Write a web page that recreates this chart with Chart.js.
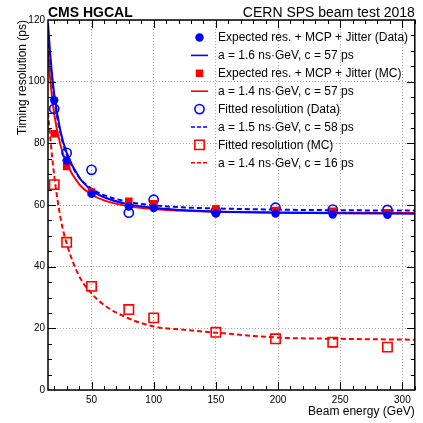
<!DOCTYPE html>
<html>
<head>
<meta charset="utf-8">
<script src="https://cdn.jsdelivr.net/npm/chart.js@4/dist/chart.umd.min.js"></script>
<style>
  html, body { margin: 0; padding: 0; background: #fff; }
  #wrap { position: relative; width: 423px; height: 423px; }
</style>
</head>
<body>
<div id="wrap"><canvas id="chart" width="423" height="423"></canvas></div>
<script>
const fontFamily = "'Liberation Sans', Arial, sans-serif"

// measured points
const energies = [20, 30, 50, 80, 100, 150, 198, 244, 288]
const expectedData = [94.0, 74.4, 63.6, 59.5, 59.0, 57.2, 57.2, 56.9, 56.8]
const expectedMC = [83.1, 72.5, 64.2, 61.2, 60.4, 58.8, 58.2, 58.0, 57.5]
const fittedData = [91.2, 76.9, 71.4, 57.5, 61.7, 58.0, 59.1, 58.5, 58.4]
const fittedMC = [66.6, 47.9, 33.6, 26.1, 23.4, 18.7, 16.6, 15.5, 13.9]

// fit curves
const curveEnergies = [15, 17, 20, 25, 30, 40, 50, 60, 80, 100, 125, 150, 200, 250, 310]
const curveExpectedData = [119, 108, 96, 84, 77, 69, 64.8, 62.5, 60.2, 59.1, 58.3, 57.9, 57.5, 57.3, 57.2]
const curveExpectedMC = [110, 100, 89.5, 79.5, 73.5, 66.8, 63.4, 61.5, 59.6, 58.7, 58.1, 57.8, 57.6, 57.5, 57.4]
const curveFittedData = [115, 105, 94.5, 83.3, 76.5, 69.0, 65.3, 63.2, 61.0, 59.9, 59.2, 58.9, 58.5, 58.3, 58.2]
const curveFittedMC = [90, 81, 69.5, 56, 47.5, 37, 31.3, 27.6, 23.2, 20.6, 19.5, 18.6, 17.0, 16.6, 16.3]

const legendLabels = [
  'Expected res. + MCP + Jitter (Data)',
  'a = 1.6 ns\u00b7GeV, c = 57 ps',
  'Expected res. + MCP + Jitter (MC)',
  'a = 1.4 ns\u00b7GeV, c = 57 ps',
  'Fitted resolution (Data)',
  'a = 1.5 ns\u00b7GeV, c = 58 ps',
  'Fitted resolution (MC)',
  'a = 1.4 ns\u00b7GeV, c = 16 ps'
]

const xTicks = [50, 100, 150, 200, 250, 300]
const yTicks = [0, 20, 40, 60, 80, 100, 120]
const xTitle = 'Beam energy (GeV)'
const yTitle = 'Timing resolution (ps)'
const leftTitle = 'CMS HGCAL'
const rightTitle = 'CERN SPS beam test 2018'

const blue = '#0000ff'
const red = '#ff0000'

const toXY = (xs, ys) => xs.map((x, i) => ({ x, y: ys[i] }))

function points(label, ys, color, style, filled, radius) {
  return {
    label,
    data: toXY(energies, ys),
    showLine: false,
    pointStyle: style,
    pointRadius: radius,
    pointBackgroundColor: filled ? color : 'rgba(0,0,0,0)',
    pointBorderColor: color,
    pointBorderWidth: filled ? 0 : 1.6,
    backgroundColor: filled ? color : 'rgba(0,0,0,0)',
    borderColor: color,
    order: 0
  }
}

function curve(label, ys, color, dashed) {
  return {
    label,
    data: toXY(curveEnergies, ys),
    showLine: true,
    pointRadius: 0,
    borderColor: color,
    borderWidth: 2,
    borderDash: dashed ? [5, 3] : [],
    cubicInterpolationMode: 'monotone',
    fill: false,
    order: 1
  }
}

const datasets = [
  points(legendLabels[0], expectedData, blue, 'circle', true, 4.2),
  curve(legendLabels[1], curveExpectedData, blue, false),
  points(legendLabels[2], expectedMC, red, 'rect', true, 5.3),
  curve(legendLabels[3], curveExpectedMC, red, false),
  points(legendLabels[4], fittedData, blue, 'circle', false, 4.6),
  curve(legendLabels[5], curveFittedData, blue, true),
  points(legendLabels[6], fittedMC, red, 'rect', false, 6.6),
  curve(legendLabels[7], curveFittedMC, red, true)
]

// frame with inward ticks, ROOT style
const framePlugin = {
  id: 'frame',
  afterDraw(chart) {
    const { ctx, chartArea: a, scales: { x, y } } = chart
    ctx.save()
    ctx.strokeStyle = '#000'
    ctx.lineWidth = 1
    ctx.beginPath()
    for (let v = 20; v <= 310; v += 10) {
      const px = Math.round(x.getPixelForValue(v)) + 0.5
      const len = v % 50 === 0 ? 8 : 4
      ctx.moveTo(px, a.bottom); ctx.lineTo(px, a.bottom - len)
      ctx.moveTo(px, a.top); ctx.lineTo(px, a.top + len)
    }
    for (let v = 5; v < 120; v += 5) {
      const py = Math.round(y.getPixelForValue(v)) + 0.5
      const len = v % 20 === 0 ? 8 : 4
      ctx.moveTo(a.left, py); ctx.lineTo(a.left + len, py)
      ctx.moveTo(a.right, py); ctx.lineTo(a.right - len, py)
    }
    ctx.stroke()
    ctx.lineWidth = 1.5
    ctx.strokeRect(a.left, a.top, a.right - a.left, a.bottom - a.top)

    ctx.fillStyle = '#000'
    ctx.textBaseline = 'alphabetic'
    ctx.font = 'bold 14px ' + fontFamily
    ctx.textAlign = 'left'
    ctx.fillText(leftTitle, a.left, 17)
    ctx.font = '14px ' + fontFamily
    ctx.textAlign = 'right'
    ctx.fillText(rightTitle, a.right, 17)
    ctx.restore()
  }
}

// legend inside the frame
const legendPlugin = {
  id: 'innerLegend',
  afterDraw(chart) {
    const { ctx } = chart
    ctx.save()
    ctx.font = '12px ' + fontFamily
    ctx.textBaseline = 'middle'
    ctx.textAlign = 'left'
    chart.data.datasets.forEach((ds, i) => {
      const cy = 37.5 + i * 17.9
      const cx = 199.5
      if (ds.showLine) {
        ctx.strokeStyle = ds.borderColor
        ctx.lineWidth = 1.6
        ctx.setLineDash(ds.borderDash.length ? [4, 2] : [])
        ctx.beginPath()
        ctx.moveTo(191, cy); ctx.lineTo(208, cy)
        ctx.stroke()
        ctx.setLineDash([])
      } else {
        ctx.fillStyle = ds.pointBackgroundColor
        ctx.strokeStyle = ds.pointBorderColor
        ctx.lineWidth = ds.pointBorderWidth
        Chart.helpers.drawPoint(ctx, {
          pointStyle: ds.pointStyle,
          radius: ds.pointRadius,
          borderWidth: ds.pointBorderWidth,
          rotation: 0
        }, cx, cy)
      }
      ctx.fillStyle = '#000'
      ctx.fillText(ds.label, 218, cy + 0.5)
    })
    ctx.restore()
  }
}

Chart.defaults.font.family = fontFamily
Chart.defaults.color = '#000'

new Chart(document.getElementById('chart'), {
  type: 'scatter',
  data: { datasets },
  plugins: [framePlugin, legendPlugin],
  options: {
    responsive: false,
    animation: false,
    layout: { padding: { top: 20, right: 5, left: 0, bottom: 0 } },
    plugins: {
      legend: { display: false },
      tooltip: { enabled: false }
    },
    scales: {
      x: {
        type: 'linear',
        min: 15,
        max: 310,
        afterBuildTicks: s => { s.ticks = xTicks.map(v => ({ value: v })) },
        afterFit: s => { s.height = 33 },
        grid: { color: '#a8a8a8', lineWidth: 1, drawTicks: false },
        border: { display: false, dash: [1, 2] },
        ticks: { padding: 4, maxRotation: 0, font: { size: 10 }, color: '#000' },
        title: {
          display: true, text: xTitle, align: 'end',
          font: { size: 12 }, color: '#000', padding: { top: 0, bottom: 4 }
        }
      },
      y: {
        type: 'linear',
        min: 0,
        max: 120,
        afterBuildTicks: s => { s.ticks = yTicks.map(v => ({ value: v })) },
        afterFit: s => { s.width = 48 },
        grid: { color: '#a8a8a8', lineWidth: 1, drawTicks: false },
        border: { display: false, dash: [1, 2] },
        ticks: { padding: 3, font: { size: 10 }, color: '#000' },
        title: {
          display: true, text: yTitle, align: 'end',
          font: { size: 12 }, color: '#000', padding: { top: 15, bottom: 0 }
        }
      }
    }
  }
})
</script>
</body>
</html>
